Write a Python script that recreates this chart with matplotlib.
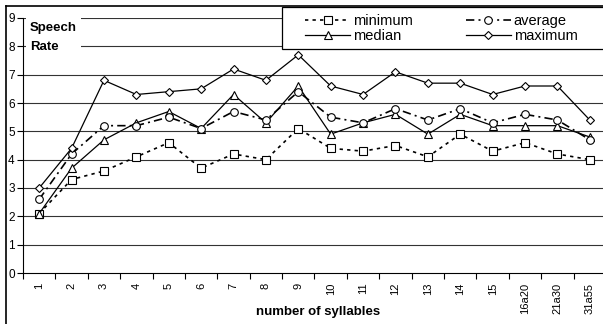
import matplotlib.pyplot as plt
from matplotlib.lines import Line2D
from matplotlib.patches import Rectangle

plt.rcParams['font.family'] = ['Liberation Sans', 'DejaVu Sans']

categories = ['1', '2', '3', '4', '5', '6', '7', '8', '9', '10', '11', '12',
              '13', '14', '15', '16a20', '21a30', '31a55']
minimum = [2.1, 3.3, 3.6, 4.1, 4.6, 3.7, 4.2, 4.0, 5.1, 4.4, 4.3, 4.5,
           4.1, 4.9, 4.3, 4.6, 4.2, 4.0]
average = [2.6, 4.2, 5.2, 5.2, 5.5, 5.1, 5.7, 5.4, 6.4, 5.5, 5.3, 5.8,
           5.4, 5.8, 5.3, 5.6, 5.4, 4.7]
median = [2.1, 3.7, 4.7, 5.3, 5.7, 5.1, 6.3, 5.3, 6.6, 4.9, 5.3, 5.6,
          4.9, 5.6, 5.2, 5.2, 5.2, 4.8]
maximum = [3.0, 4.4, 6.8, 6.3, 6.4, 6.5, 7.2, 6.8, 7.7, 6.6, 6.3, 7.1,
           6.7, 6.7, 6.3, 6.6, 6.6, 5.4]

W, H = 603, 324
fig = plt.figure(figsize=(W / 100, H / 100), dpi=100)
ax = fig.add_axes([23 / W, 1 - 273 / H, 583 / W, 255 / H])

x = list(range(1, len(categories) + 1))
mk = dict(mfc='white', mec='black', mew=0.8, color='black')

ax.plot(x, minimum, ls=(0, (2, 2.5)), lw=1.2, marker='s', ms=5.5, label='minimum', **mk)
ax.plot(x, median, ls='-', lw=0.9, marker='^', ms=5.5, label='median', **mk)
ax.plot(x, average, ls=(0, (5, 2.5, 1.2, 2.5)), lw=1.2, marker='o', ms=5.5, label='average', **mk)
ax.plot(x, maximum, ls='-', lw=0.9, marker='D', ms=4, label='maximum', **mk)

ax.set_xlim(0.5, len(categories) + 0.5)
ax.set_ylim(0, 9)
ax.set_yticks(range(10))
ax.set_xticks(x)
ax.set_xticklabels(categories, rotation=90, fontsize=8)
ax.set_xticks([i + 0.5 for i in range(len(categories))], minor=True)
ax.tick_params(axis='x', which='major', length=0, pad=7)
ax.tick_params(axis='x', which='minor', length=4, width=0.8, direction='out')
ax.tick_params(axis='y', length=4, width=0.8, labelsize=8.5, pad=2)

for v in range(1, 10):
    ax.axhline(v, color='#333333', lw=0.8, zorder=0.5)

for s in ['top', 'right']:
    ax.spines[s].set_visible(False)
ax.spines['left'].set_linewidth(0.8)
ax.spines['bottom'].set_linewidth(0.8)

fig.text(318 / W, 1 - 312 / H, 'number of syllables', ha='center', va='center',
         fontsize=9.5, fontweight='bold')

ax.text(0.012, 0.985, 'Speech\nRate', transform=ax.transAxes, ha='left', va='top',
        fontsize=9.5, fontweight='bold', linespacing=1.75,
        bbox=dict(fc='white', ec='none', pad=3), zorder=3)

# legend box (frame drawn separately so it runs off the right edge)
fig.add_artist(Rectangle((282 / W, 1 - 49 / H), 340 / W, 42 / H, transform=fig.transFigure,
                         fc='white', ec='black', lw=0.9, zorder=4))
leg = fig.legend(loc='upper left', bbox_to_anchor=(305 / W, 1 - 14 / H),
                 ncol=2, fontsize=10.5, frameon=False, borderaxespad=0, borderpad=0,
                 labelspacing=0.05, handlelength=3.1, handletextpad=0.2,
                 columnspacing=3.6)
leg.set_zorder(5)

# outer chart border
x0, y0 = 6 / W, 1 - 6 / H
fig.add_artist(Line2D([x0, x0], [0, y0], color='black', lw=1.2))
fig.add_artist(Line2D([x0, 1], [y0, y0], color='black', lw=1.2, zorder=6))

fig.savefig('out.png', dpi=100)
